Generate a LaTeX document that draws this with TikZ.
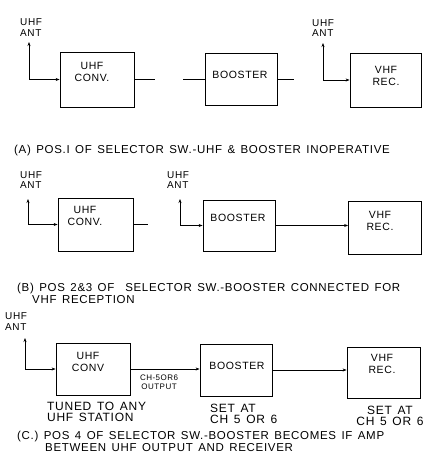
\documentclass[tikz,border=0pt]{standalone}
\usepackage{fontspec}
\setmainfont{Liberation Sans}[LetterSpace=6,WordSpace=1.4]
\usetikzlibrary{arrows.meta}
\begin{document}
\begin{tikzpicture}[x=1pt,y=-1pt,
  blk/.style={draw, line width=0.8pt, inner sep=0pt},
  wire/.style={line width=0.8pt},
  arr/.style={wire, -{Stealth[length=4pt,width=3pt]}},
  antarr/.style={wire, {Stealth[length=4pt,width=3pt]}-{Stealth[length=4pt,width=3pt]}},
  ant/.style={font=\fontsize{10}{10.5}\selectfont, align=left, anchor=west, inner sep=0pt},
  btxt/.style={font=\fontsize{10.5}{12}\selectfont, align=center, inner sep=0pt},
  captxt/.style={font=\fontsize{11.5}{11}\selectfont, anchor=west, inner sep=0pt},
  sub/.style={font=\fontsize{12}{11}\selectfont, align=left, anchor=west, inner sep=0pt},
  subc/.style={font=\fontsize{12}{11}\selectfont, align=center, inner sep=0pt},
  tiny/.style={font=\fontsize{8}{8.5}\selectfont, align=center, inner sep=0pt},
]
\useasboundingbox (0,0) rectangle (423,457);

% ---------------- Panel A ----------------
\node[ant] (aantl) at (20,27.5) {UHF\\ANT};
\coordinate (aant) at (29,42);
\node[blk, minimum width=74pt, minimum height=55pt] (a1) at (97,79.5) {};
\node[btxt] (a1t) at (92,72) {UHF\\CONV.};
\coordinate (a1o) at (155,79.5);
\coordinate (a2i) at (183,79);
\node[blk, minimum width=72pt, minimum height=52pt] (a2) at (241,79) {};
\node[btxt] (a2t) at (240,75) {BOOSTER};
\coordinate (a2o) at (294,79);
\node[ant] (aant2l) at (312,28) {UHF\\ANT};
\coordinate (aant2) at (323,43);
\node[blk, minimum width=71pt, minimum height=54pt] (a3) at (385.5,80) {};
\node[btxt] (a3t) at (386,76) {VHF\\REC.};
\draw[antarr] (aant) |- (a1.west);
\draw[wire] (a1.east) -- (a1o);
\draw[wire] (a2i) -- (a2.west);
\draw[wire] (a2.east) -- (a2o);
\draw[antarr] (aant2) |- (a3.west);
\node[captxt] (capa) at (14,151) {(A) POS.I OF SELECTOR SW.-UHF \& BOOSTER INOPERATIVE};

% ---------------- Panel B ----------------
\node[ant] (bantl) at (20,180) {UHF\\ANT};
\coordinate (bant) at (28,199);
\node[blk, minimum width=75pt, minimum height=53pt] (b1) at (95.5,224.5) {};
\node[btxt] (b1t) at (85,216) {UHF\\CONV.};
\coordinate (b1o) at (148,224.5);
\node[ant] (bant2l) at (167,180) {UHF\\ANT};
\coordinate (bant2) at (180,199);
\node[blk, minimum width=72pt, minimum height=51pt] (b2) at (239,225.5) {};
\node[btxt] (b2t) at (238,218) {BOOSTER};
\node[blk, minimum width=73pt, minimum height=53pt] (b3) at (385,227.5) {};
\node[btxt] (b3t) at (380,221) {VHF\\REC.};
\draw[antarr] (bant) |- (b1.west);
\draw[wire] (b1.east) -- (b1o);
\draw[antarr] (bant2) |- (b2.west);
\draw[arr] (b2.east) -- (b2.east -| b3.west);
\node[captxt] (capb1) at (17,289) {(B) POS 2\&3 OF\ \ SELECTOR SW.-BOOSTER CONNECTED FOR};
\node[captxt] (capb2) at (32,300) {VHF RECEPTION};

% ---------------- Panel C ----------------
\node[ant] (cantl) at (5,321.5) {UHF\\ANT};
\coordinate (cant) at (25,338);
\node[blk, minimum width=74pt, minimum height=52pt] (c1) at (93,369) {};
\node[btxt] (c1t) at (88,362) {UHF\\CONV};
\node[blk, minimum width=72pt, minimum height=52pt] (c2) at (236,370) {};
\node[btxt] (c2t) at (237,366) {BOOSTER};
\node[blk, minimum width=73pt, minimum height=51pt] (c3) at (383.5,372.5) {};
\node[btxt] (c3t) at (382,364) {VHF\\REC.};
\draw[antarr] (cant) |- (c1.west);
\draw[arr] (c1.east) -- (c1.east -| c2.west);
\node[tiny] (c12l) at (159,382) {CH-5OR6\\OUTPUT};
\draw[arr] (c2.east) -- (c2.east -| c3.west);
\node[sub] (c1s) at (47,411.5) {TUNED TO ANY\\UHF STATION};
\node[sub] (c2s) at (210,413.5) {SET AT\\CH 5 OR 6};
\node[subc] (c3s) at (390,416) {SET AT\\CH 5 OR 6};
\node[captxt] (capc1) at (17,437) {(C.) POS 4 OF SELECTOR SW.-BOOSTER BECOMES IF AMP};
\node[captxt] (capc2) at (45,447.5) {BETWEEN UHF OUTPUT AND RECEIVER};
\end{tikzpicture}
\end{document}
